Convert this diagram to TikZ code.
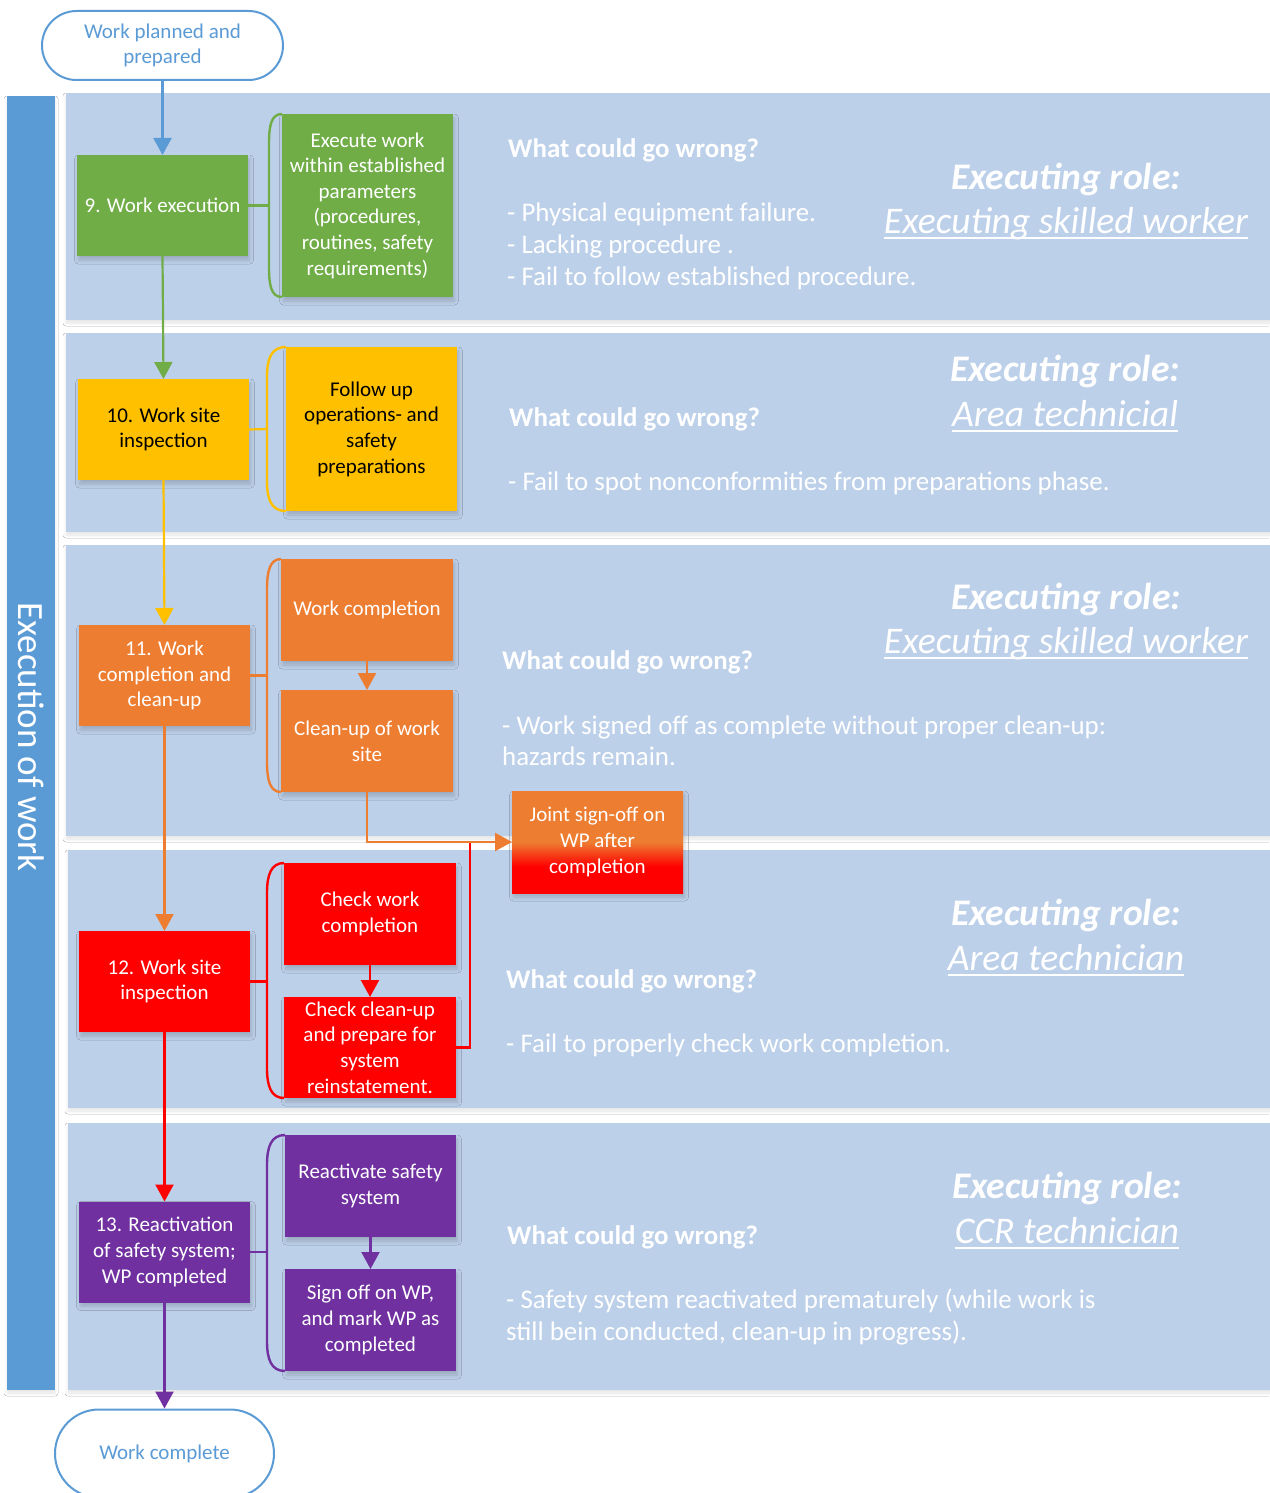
\documentclass[tikz,border=0pt]{standalone}
\usepackage{fontspec}
\setmainfont{Carlito}
\usetikzlibrary{arrows.meta,shapes.misc,shadows.blur}

\definecolor{barblue}{HTML}{5B9BD5}
\definecolor{bandblue}{RGB}{189,208,233}
\definecolor{cgreen}{HTML}{70AD47}
\definecolor{cyellow}{HTML}{FFC000}
\definecolor{corange}{HTML}{ED7D31}
\definecolor{cred}{HTML}{FF0000}
\definecolor{cpurple}{HTML}{7030A0}

% orange on top, red at the bottom, blend in the lower middle
\pgfdeclareverticalshading{signoff}{100bp}{color(0bp)=(cred); color(38bp)=(cred); color(50bp)=(corange); color(100bp)=(corange)}

\newcommand\boxfont{\fontsize{21}{25.6}\selectfont}
\newcommand\bodyfont{\fontsize{26.9}{32}\selectfont}
\newcommand\rolefont{\fontsize{37.6}{44}\selectfont}

\tikzset{
  softshadow/.style={blur shadow={shadow xshift=1.5pt, shadow yshift=-4pt, shadow blur radius=4pt, shadow opacity=18}},
  bandshadow/.style={blur shadow={shadow xshift=0pt, shadow yshift=-3pt, shadow blur radius=3pt, shadow opacity=10}},
  stepbox/.style={rectangle, minimum width=171pt, minimum height=101pt, inner sep=2pt, outer sep=0pt,
    align=center, font=\boxfont, text=white, softshadow},
  terminal/.style={rounded rectangle, draw=barblue, line width=2pt, fill=white, align=center,
    font=\boxfont, text=barblue, inner sep=2pt},
  flow/.style={line width=2.2pt, -{Triangle[width=18pt,length=17pt]}},
  link/.style={line width=2.2pt},
  bracket/.style={line width=2.4pt},
  wrong/.style={anchor=mid west, inner sep=0pt, font=\bodyfont\bfseries, text=white},
  item/.style={anchor=mid west, inner sep=0pt, font=\bodyfont, text=white},
  role/.style={anchor=mid, inner sep=0pt, font=\rolefont\bfseries\itshape, text=white},
  rolename/.style={anchor=mid, inner sep=0pt, font=\rolefont\itshape, text=white},
  uline/.style={white, line width=2pt},
}

\begin{document}
\begin{tikzpicture}[x=1pt, y=-1pt]
\fill[white] (0,0) rectangle (1269,1493);
\useasboundingbox (0,0) rectangle (1269,1493);

% phase bands
\path[fill=bandblue, bandshadow] (66,93) rectangle (1290,320);
\path[fill=bandblue, bandshadow] (66,333) rectangle (1290,532);
\path[fill=bandblue, bandshadow] (66,545) rectangle (1290,836);
\path[fill=bandblue, bandshadow] (68,850) rectangle (1290,1108);
\path[fill=bandblue, bandshadow] (68,1123) rectangle (1290,1390);

% side bar
\node[fill=barblue, minimum width=48pt, minimum height=1294pt, inner sep=0pt, bandshadow] (bar) at (31,743) {};
\node[rotate=-90, text=white, font=\fontsize{37}{44}\selectfont, inner sep=0pt] (barlabel) at (31,737) {Execution of work};

% terminals
\node[terminal, minimum width=245pt, minimum height=69pt] (start) at (162.5,45.5) {Work planned and\\prepared};
\node[terminal, minimum width=223pt, minimum height=88pt] (finish) at (164.5,1453.5) {Work complete};

% main steps
\node[stepbox, fill=cgreen] (n9) at (162.5,205.5) {9. Work execution};
\node[stepbox, fill=cyellow, text=black] (n10) at (163.5,429.5) {10. Work site\\inspection};
\node[stepbox, fill=corange] (n11) at (164.5,675.5) {11. Work\\completion and\\clean-up};
\node[stepbox, fill=cred] (n12) at (164.5,981.5) {12. Work site\\inspection};
\node[stepbox, fill=cpurple] (n13) at (164.5,1252) {13. Reactivation\\of safety system;\\WP completed};

% sub-steps
\node[stepbox, fill=cgreen, minimum height=183pt] (g1) at (367.5,205.5) {Execute work\\within established\\parameters\\(procedures,\\routines, safety\\requirements)};
\node[stepbox, fill=cyellow, text=black, minimum height=164pt] (y1) at (371.5,429) {Follow up\\operations- and\\safety\\preparations};
\node[stepbox, fill=corange, minimum width=172pt, minimum height=102pt] (o1) at (367,610) {Work completion};
\node[stepbox, fill=corange, minimum width=172pt, minimum height=102pt] (o2) at (367,741) {Clean-up of work\\site};
\node[stepbox, fill=cred, minimum width=172pt, minimum height=102pt] (r1) at (370,914) {Check work\\completion};
\node[stepbox, fill=cred, minimum width=172pt] (r2) at (370,1047.5) {Check clean-up\\and prepare for\\system\\reinstatement.};
\node[stepbox, fill=cpurple, minimum height=102pt] (p1) at (370.5,1186) {Reactivate safety\\system};
\node[stepbox, fill=cpurple, minimum height=102pt] (p2) at (370.5,1320) {Sign off on WP,\\and mark WP as\\completed};
\node[stepbox, shading=signoff, minimum height=102pt] (joint) at (597.5,842) {Joint sign-off on\\WP after\\completion};

% bracket joints
\coordinate (gb) at (269,205.5);
\coordinate (yb) at (267,429);
\coordinate (ob) at (267,675.5);
\coordinate (rb) at (267,981.5);
\coordinate (pb) at (267,1252);
\coordinate (jn) at (470,842);

% brackets
\draw[bracket, cgreen] (g1.north west) .. controls +(-11,0) and +(0,-18) .. (269,144) -- (269,267) .. controls +(0,18) and +(-11,0) .. (g1.south west);
\draw[bracket, cyellow] (y1.north west) .. controls +(-15,0) and +(0,-18) .. (267,377) -- (267,481) .. controls +(0,18) and +(-15,0) .. (y1.south west);
\draw[bracket, corange] (o1.north west) .. controls +(-11,0) and +(0,-18) .. (267,589) -- (267,762) .. controls +(0,18) and +(-11,0) .. (o2.south west);
\draw[bracket, cred] (r1.north west) .. controls +(-13,0) and +(0,-18) .. (267,893) -- (267,1068) .. controls +(0,18) and +(-13,0) .. (r2.south west);
\draw[bracket, cpurple] (p1.north west) .. controls +(-14,0) and +(0,-18) .. (267,1165) -- (267,1341) .. controls +(0,18) and +(-14,0) .. (p2.south west);

\draw[link, cgreen] (n9.east) -- (gb);
\draw[link, cyellow] (n10.east) -- (yb);
\draw[link, corange] (n11.east) -- (ob);
\draw[link, cred] (n12.east) -- (rb);
\draw[link, cpurple] (n13.east) -- (pb);

% main flow
\draw[flow, barblue] (start.south) -- (n9.north);
\draw[flow, cgreen] (n9.south) -- (n10.north);
\draw[flow, cyellow] (n10.south) -- (n11.north);
\draw[flow, corange] (n11.south) -- (n12.north);
\draw[flow, cred] (n12.south) -- (n13.north);
\draw[flow, cpurple] (n13.south) -- (finish.north);

% sub flow
\draw[flow, corange] (o1.south) -- (o2.north);
\draw[flow, cred] (r1.south) -- (r2.north);
\draw[flow, cpurple] (p1.south) -- (p2.north);
\draw[link, cred] (r2.east) -| (jn);
\draw[flow, corange] (o2.south) |- (joint.west);

% band 1
\node[wrong] (w1) at (508,155) {What could go wrong?};
\node[item] (w1a) at (507,219) {- Physical equipment failure.};
\node[item] (w1b) at (507,251) {- Lacking procedure .};
\node[item] (w1c) at (507,283) {- Fail to follow established procedure.};
\node[role] (e1) at (1066,187) {Executing role:};
\node[rolename] (e1n) at (1066,231) {Executing skilled worker};
\draw[uline] ([yshift=-5pt]e1n.base west) -- ([yshift=-5pt]e1n.base east);

% band 2
\node[wrong] (w2) at (509,424) {What could go wrong?};
\node[item] (w2a) at (508,488) {- Fail to spot nonconformities from preparations phase.};
\node[role] (e2) at (1065,379) {Executing role:};
\node[rolename] (e2n) at (1065,424) {Area technicial};
\draw[uline] ([yshift=-5pt]e2n.base west) -- ([yshift=-5pt]e2n.base east);

% band 3
\node[wrong] (w3) at (502,667) {What could go wrong?};
\node[item] (w3a) at (502,732) {- Work signed off as complete without proper clean-up:};
\node[item] (w3b) at (502,763) {hazards remain.};
\node[role] (e3) at (1066,607) {Executing role:};
\node[rolename] (e3n) at (1066,651) {Executing skilled worker};
\draw[uline] ([yshift=-5pt]e3n.base west) -- ([yshift=-5pt]e3n.base east);

% band 4
\node[wrong] (w4) at (506,986) {What could go wrong?};
\node[item] (w4a) at (506,1050) {- Fail to properly check work completion.};
\node[role] (e4) at (1066,923) {Executing role:};
\node[rolename] (e4n) at (1066,968) {Area technician};
\draw[uline] ([yshift=-5pt]e4n.base west) -- ([yshift=-5pt]e4n.base east);

% band 5
\node[wrong] (w5) at (507,1242) {What could go wrong?};
\node[item] (w5a) at (506,1306) {- Safety system reactivated prematurely (while work is};
\node[item] (w5b) at (506,1338) {still bein conducted, clean-up in progress).};
\node[role] (e5) at (1067,1196) {Executing role:};
\node[rolename] (e5n) at (1067,1241) {CCR technician};
\draw[uline] ([yshift=-5pt]e5n.base west) -- ([yshift=-5pt]e5n.base east);
\end{tikzpicture}
\end{document}
